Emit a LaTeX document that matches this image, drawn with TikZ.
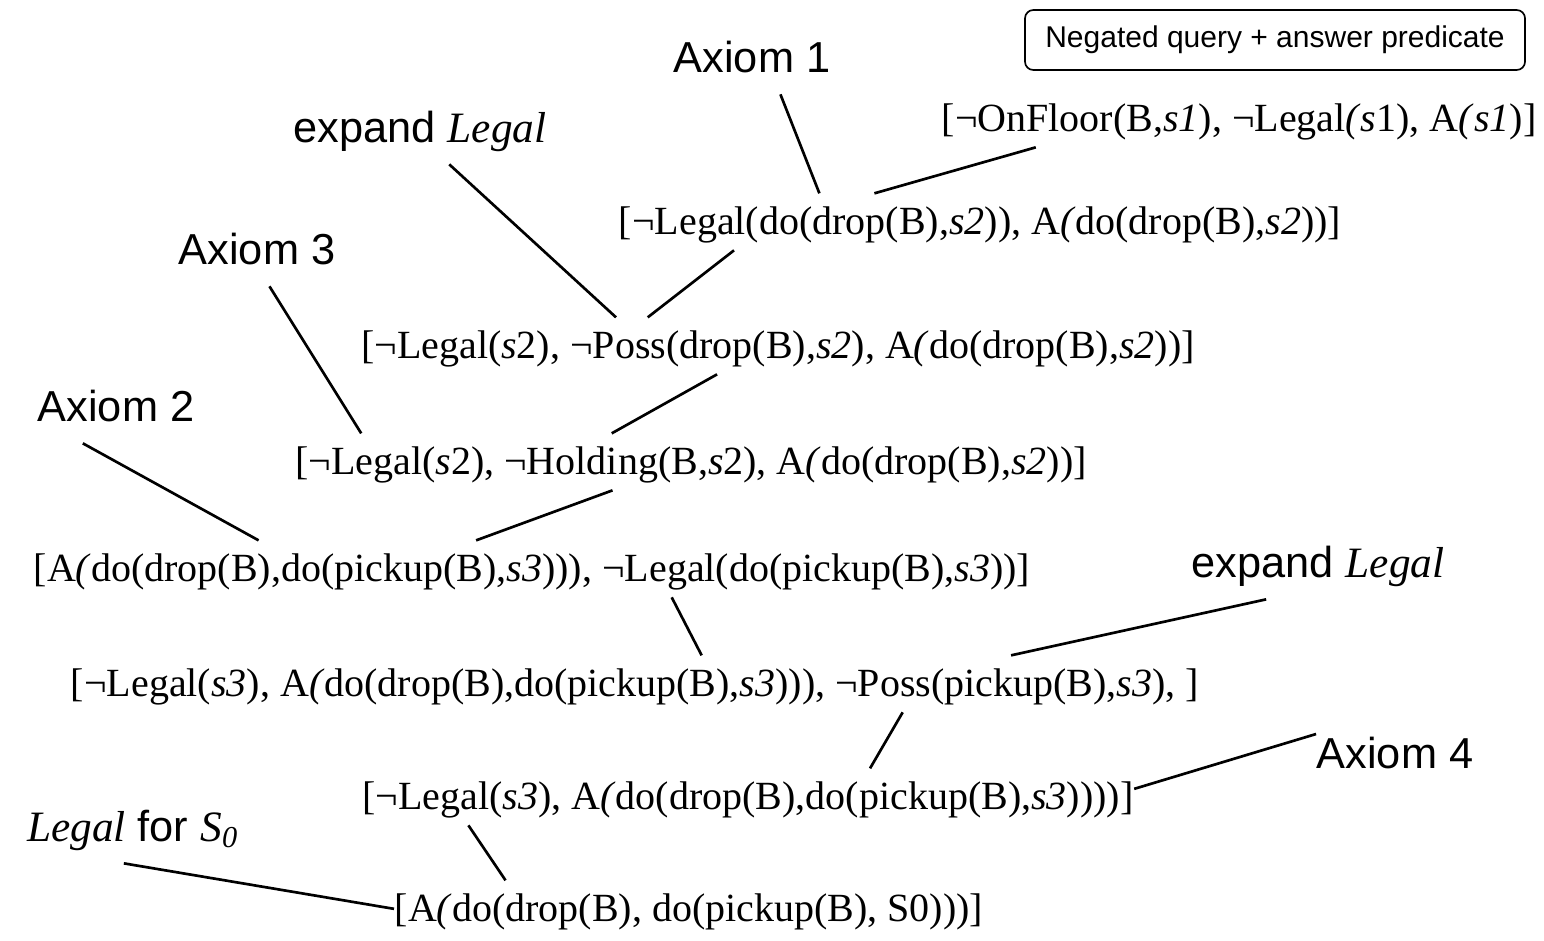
\documentclass[tikz,border=0pt]{standalone}
\usepackage{fontspec}
\setmainfont{Liberation Serif}
\setsansfont{Liberation Sans}
\usepackage{tikz}
\usetikzlibrary{calc}
\newcommand{\sv}[1]{\textit{#1}}
\newcommand{\ip}{\textit{(}}
\tikzset{
  clause/.style={
    anchor=base,
    font=\fontsize{12}{14}\selectfont,
    inner sep=0pt,
    text height=12pt,
    text depth=4.7pt
  },
  rulelabel/.style={
    anchor=base,
    font=\sffamily\fontsize{13}{15}\selectfont,
    inner sep=0pt,
    text height=10pt,
    text depth=6.5pt
  },
  querybox/.style={
    draw,
    line width=0.5pt,
    rounded corners=2.5pt,
    minimum width=150pt,
    minimum height=18pt,
    font=\sffamily\fontsize{9}{11}\selectfont
  },
  connection/.style={
    line width=0.8pt
  }
}

\begin{document}
\begin{tikzpicture}[x=0.3pt,y=-0.3pt]
  \useasboundingbox (0,0) rectangle (1544,940);

  % start of the refutation
  \node[querybox] (Query) at (1275,40) {Negated query + answer predicate};

  % clauses of the refutation, top to bottom (baselines)
  \node[clause] (C1) at (1239,131) {[¬OnFloor(B,\sv{s1}), ¬Legal\ip\sv{s}1), A\ip\sv{s1})]};
  \node[clause] (C2) at (980,234) {[¬Legal(do(drop(B),\sv{s2})), A\ip do(drop(B),\sv{s2}))]};
  \node[clause] (C3) at (778,358) {[¬Legal(\sv{s}2), ¬Poss(drop(B),\sv{s2}), A\ip do(drop(B),\sv{s2}))]};
  \node[clause] (C4) at (691,474) {[¬Legal(\sv{s}2), ¬Holding(B,\sv{s}2), A\ip do(drop(B),\sv{s2}))]};
  \node[clause] (C5) at (532,581) {[A\ip do(drop(B),do(pickup(B),\sv{s3}))), ¬Legal(do(pickup(B),\sv{s3}))]};
  \node[clause] (C6) at (635,696) {[¬Legal(\sv{s3}), A\ip do(drop(B),do(pickup(B),\sv{s3}))), ¬Poss(pickup(B),\sv{s3}), ]};
  \node[clause] (C7) at (748,809) {[¬Legal(\sv{s3}), A\ip do(drop(B),do(pickup(B),\sv{s3}))))]};
  \node[clause] (C8) at (689,921) {[A\ip do(drop(B), do(pickup(B), S0)))]};

  % axioms and rewrites used
  \node[rulelabel] (Ax1) at (752,72) {Axiom 1};
  \node[rulelabel] (Exp1) at (420,142) {expand \textrm{\textit{Legal}}};
  \node[rulelabel] (Ax3) at (257,264) {Axiom 3};
  \node[rulelabel] (Ax2) at (116,421) {Axiom 2};
  \node[rulelabel] (Exp2) at (1318,577) {expand \textrm{\textit{Legal}}};
  \node[rulelabel] (Ax4) at (1395,768) {Axiom 4};
  \node[rulelabel] (LglS0) at (133,841) {\textrm{\textit{Legal}} for \textrm{\textit{S\textsubscript{0}}}};

  % resolution steps
  \draw[connection] ($(Ax1.south west)!0.68!(Ax1.south east)$) -- ($(C2.north west)!0.278!(C2.north east)$);
  \draw[connection] ($(C1.south west)!0.159!(C1.south east)$) -- ($(C2.north west)!0.354!(C2.north east)$);
  \draw[connection] ($(Exp1.south west)!0.615!(Exp1.south east)$) -- ($(C3.north west)!0.306!(C3.north east)$);
  \draw[connection] ($(C2.south west)!0.16!(C2.south east)$) -- ($(C3.north west)!0.344!(C3.north east)$);
  \draw[connection] ($(Ax3.south west)!0.579!(Ax3.south east)$) -- ($(C4.north west)!0.084!(C4.north east)$);
  \draw[connection] ($(C3.south west)!0.427!(C3.south east)$) -- ($(C4.north west)!0.40!(C4.north east)$);
  \draw[connection] ($(Ax2.south west)!0.29!(Ax2.south east)$) -- ($(C5.north west)!0.226!(C5.north east)$);
  \draw[connection] ($(C4.south west)!0.401!(C4.south east)$) -- ($(C5.north west)!0.444!(C5.north east)$);
  \draw[connection] ($(C5.south west)!0.64!(C5.south east)$) -- ($(C6.north west)!0.559!(C6.north east)$);
  \draw[connection] ($(Exp2.south west)!0.296!(Exp2.south east)$) -- ($(C6.north west)!0.833!(C6.north east)$);
  \draw[connection] ($(C6.south west)!0.737!(C6.south east)$) -- ($(C7.north west)!0.658!(C7.north east)$);
  \draw[connection] (Ax4.north west) -- ($(C7.north east)!0.36!(C7.south east)$);
  \draw[connection] ($(C7.south west)!0.138!(C7.south east)$) -- ($(C8.north west)!0.189!(C8.north east)$);
  \draw[connection] ($(LglS0.south west)!0.457!(LglS0.south east)$) -- (C8.west);

\end{tikzpicture}
\end{document}
